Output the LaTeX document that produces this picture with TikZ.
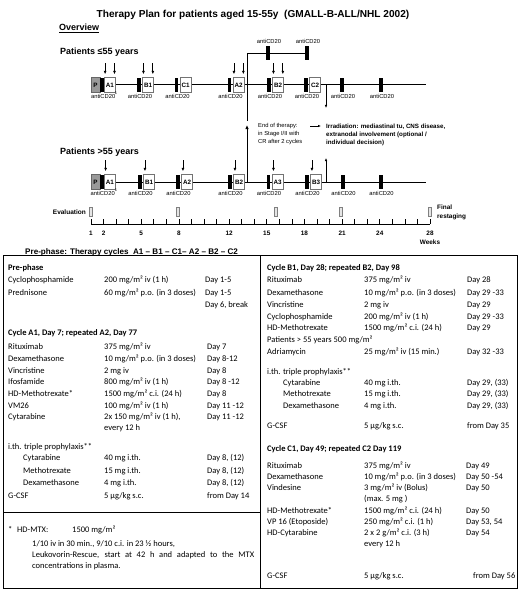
\documentclass[tikz,border=0pt]{standalone}
\usepackage{fontspec}
\setmainfont{Liberation Sans}
\newfontfamily\calibri{Carlito}
\usetikzlibrary{positioning}
\usetikzlibrary{arrows.meta}

\begin{document}
\begin{tikzpicture}[x=1pt,y=-1pt,
		bar/.style={fill=black,minimum width=3.5pt,minimum height=14pt,inner sep=0pt},
		cyc/.style={draw=black!55,fill=white,minimum width=11pt,minimum height=15pt,inner sep=0pt,font=\bfseries\fontsize{6.3}{7}\selectfont},
		pbox/.style={draw=black!60,fill=black!40,minimum width=9pt,minimum height=15pt,inner sep=0pt,font=\bfseries\fontsize{6.3}{7}\selectfont},
		cd/.style={font=\fontsize{5.8}{6}\selectfont,inner sep=0pt},
		dose/.style={-{Latex[length=3.5pt,width=3pt]},line width=0.9pt},
		thin arrow/.style={-{Latex[length=3pt,width=2.5pt]},line width=0.6pt},
		axis/.style={line width=1pt},
		evalbox/.style={draw=black!50,fill=black!10,minimum width=3pt,minimum height=9pt,inner sep=0pt},
		wk/.style={font=\bfseries\fontsize{6.4}{7}\selectfont,inner sep=0pt},
		tab/.style={anchor=base west,inner sep=0pt,font=\calibri\fontsize{8.5}{9}\selectfont},
		tabhead/.style={tab,font=\calibri\bfseries\fontsize{8.5}{9}\selectfont}]
	\useasboundingbox (0,0) rectangle (520,591);
	
	\node[font=\bfseries\fontsize{10.1}{12}\selectfont] (title) at (253,15) {Therapy Plan for patients aged 15-55y\ \ (GMALL-B-ALL/NHL 2002)};
	\node[anchor=west,inner sep=0pt,font=\bfseries\fontsize{9}{10}\selectfont] (overview) at (59,28) {\underline{Overview}};
	\node[anchor=west,inner sep=0pt,font=\bfseries\fontsize{9}{10}\selectfont] (young) at (60,52) {Patients ≤55 years};
	\node[anchor=west,inner sep=0pt,font=\bfseries\fontsize{9}{10}\selectfont] (old) at (60,152) {Patients >55 years};
	
	% patients <= 55
	\draw[axis] (114,85) -- (426,85);
	\node[pbox] (tp) at (95.5,85) {P};
	\node[bar,right=0pt of tp] (ta1-bar) {};
	\node[cyc,right=0pt of ta1-bar] (ta1) {A1};
	\foreach \bx/\lab/\nm in {139/B1/tb1, 176.5/C1/tc1, 229.5/A2/ta2, 269/B2/tb2, 306/C2/tc2}{
		\node[bar] (\nm-bar) at (\bx,85) {};
		\node[cyc,right=1.5pt of \nm-bar] (\nm) {\lab};
	}
	\node[bar] (tx1-bar) at (342,85) {};
	\node[bar] (tx2-bar) at (381,85) {};
	\foreach \nm in {ta1,tb1,tc1,ta2,tb2,tc2,tx1,tx2}
		\node[cd,anchor=north] (\nm-cd) at ([xshift=1pt,yshift=-2pt]\nm-bar.south) {antiCD20};
	\node[font=\fontsize{4}{4}\selectfont,inner sep=0pt] (ta1-note) at (116,93) {1};
	\foreach \nm in {ta1,tb1,ta2,tb2}{
		\draw[dose] ([xshift=1pt,yshift=14pt]\nm.north west) -- ([xshift=1pt,yshift=3pt]\nm.north west);
		\draw[dose] ([xshift=-1pt,yshift=14pt]\nm.north east) -- ([xshift=-1pt,yshift=3pt]\nm.north east);
	}
	\draw[thin arrow] (326,85) -- (326,108);
	
	% consolidation branch
	\node[bar] (bb1) at (268,53) {};
	\node[bar] (bb2) at (307,53) {};
	\draw[line width=0.9pt] (247,121) |- (bb2.center);
	\node[cd,anchor=south] (bb1-cd) at ([xshift=1pt,yshift=2pt]bb1.north) {antiCD20};
	\node[cd,anchor=south] (bb2-cd) at ([xshift=1pt,yshift=2pt]bb2.north) {antiCD20};
	\draw[line width=0.9pt,-{Latex[length=4pt,width=3.5pt]}] (247,182) -- (247,125);
	
	\node[anchor=north west,inner sep=0pt,align=left,font=\fontsize{5.8}{7.8}\selectfont] (eot) at (258,123.5) {End of therapy:\\in Stage I/II with\\CR after 2 cycles};
	\node[anchor=north west,inner sep=0pt,align=left,font=\bfseries\fontsize{6.2}{8}\selectfont] (irr) at (326,123.5) {Irradiation: mediastinal tu, CNS disease,\\extranodal involvement (optional /\\individual decision)};
	\draw[thin arrow] ([xshift=-16pt,yshift=-2.5pt]irr.north west) -- ([xshift=-5pt,yshift=-2.5pt]irr.north west);
	
	% patients > 55
	\draw[axis] (114,182) -- (426,182);
	\node[pbox] (bp) at (95.5,182) {P};
	\node[bar,right=0pt of bp] (ba1-bar) {};
	\node[cyc,right=0pt of ba1-bar] (ba1) {A1};
	\foreach \bx/\lab/\nm in {140/B1/bb1x, 178/A2/ba2, 230/B2/bb2x, 268.5/A3/ba3, 307/B3/bb3}{
		\node[bar] (\nm-bar) at (\bx,182) {};
		\node[cyc,right=1.5pt of \nm-bar] (\nm) {\lab};
	}
	\node[bar] (bx1-bar) at (343,182) {};
	\node[bar] (bx2-bar) at (381,182) {};
	\foreach \nm in {ba1,bb1x,ba2,bb2x,ba3,bb3,bx1,bx2}
		\node[cd,anchor=north] (\nm-cd) at ([xshift=0.5pt,yshift=-2pt]\nm-bar.south) {antiCD20};
	\node[font=\fontsize{4}{4}\selectfont,inner sep=0pt] (ba1-note) at (116,190) {1};
	\foreach \nm in {ba1,bb1x,ba2,bb2x,ba3,bb3}
		\draw[dose] ([xshift=1.5pt,yshift=14pt]\nm.north west) -- ([xshift=1.5pt,yshift=3pt]\nm.north west);
	\draw[thin arrow] (326,182) -- (326,158);
	
	% evaluation and weeks
	\node[anchor=east,inner sep=0pt,font=\bfseries\fontsize{6.5}{7}\selectfont] (eval) at (86,212) {Evaluation};
	\foreach \ex [count=\i] in {91,178,276,341,430}
		\node[evalbox] (ev\i) at (\ex,211.5) {};
	\node[anchor=west,inner sep=0pt,align=left,font=\bfseries\fontsize{6.4}{9}\selectfont] (final) at (437,212.5) {Final\\restaging};
	\draw[axis] (91,224) -- (430,224);
	\foreach \k in {0,...,27}
		\draw[line width=0.6pt] ({91+12.556*\k},219) -- ({91+12.556*\k},224);
	\foreach \w in {1,2,5,8,12,15,18,21,24,28}
		\node[wk] (w\w) at ({91+12.556*(\w-1)},233) {\w};
	\node[wk] (weeks) at (430,242) {Weeks};
	
	\node[anchor=base west,inner sep=0pt,font=\bfseries\fontsize{8.1}{9}\selectfont] (cycles) at (25,254) {Pre-phase: Therapy cycles\ \ A1 -- B1 -- C1-- A2 -- B2 -- C2};
	
	% table
	\draw[line width=0.8pt] (3,255) rectangle (517,588);
	\draw[line width=0.8pt] (260,255) -- (260,588);
	\draw[line width=0.8pt] (3,512) -- (260,512);
	
	\node[tabhead] (pre) at (8,270) {Pre-phase};
	\foreach \y/\a/\b/\c [count=\i] in {282/{Cyclophosphamide}/{200 mg/m² iv (1 h)}/{Day 1-5},
		295/{Prednisone}/{60 mg/m² p.o. (in 3 doses)}/{Day 1-5}, 307/{}/{}/{Day 6, break}}{
		\node[tab] (pn\i) at (8,\y) {\a};
		\node[tab] (pd\i) at (104,\y) {\b};
		\node[tab] (pt\i) at (205,\y) {\c};
	}
	\node[tabhead] (cyca) at (8,335) {Cycle A1, Day 7; repeated A2, Day 77};
	\foreach \y/\a/\b/\c [count=\i] in {349/{Rituximab}/{375 mg/m² iv}/{Day 7},
		361/{Dexamethasone}/{10 mg/m² p.o. (in 3 doses)}/{Day 8-12},
		373/{Vincristine}/{2 mg iv}/{Day 8},
		384/{Ifosfamide}/{800 mg/m² iv (1 h)}/{Day 8 -12},
		396/{HD-Methotrexate*}/{1500 mg/m² c.i. (24 h)}/{Day 8},
		408/{VM26}/{100 mg/m² iv (1 h)}/{Day 11 -12},
		419/{Cytarabine}/{2x 150 mg/m² iv (1 h),}/{Day 11 -12},
		430/{}/{every 12 h}/{},
		498/{G-CSF}/{5 µg/kg s.c.}/{from Day 14}}{
		\node[tab] (an\i) at (8,\y) {\a};
		\node[tab] (ad\i) at (104,\y) {\b};
		\node[tab] (at\i) at (207,\y) {\c};
	}
	\node[tab] (ithA) at (8,449) {i.th. triple prophylaxis**};
	\foreach \y/\a/\b/\c [count=\i] in {460/{Cytarabine}/{40 mg i.th.}/{Day 8, (12)},
		473/{Methotrexate}/{15 mg i.th.}/{Day 8, (12)},
		485/{Dexamethasone}/{4 mg i.th.}/{Day 8, (12)}}{
		\node[tab] (in\i) at (23,\y) {\a};
		\node[tab] (id\i) at (104,\y) {\b};
		\node[tab] (it\i) at (207,\y) {\c};
	}
	
	% footnote
	\node[tab] (fn1) at (8,532) {*};
	\node[tab] (fn2) at (17,532) {HD-MTX:};
	\node[tab] (fn3) at (72,532) {1500 mg/m²};
	\node[tab] (fn4) at (32,546) {1/10 iv in 30 min., 9/10 c.i. in 23 ½ hours,};
	\node[tab] (fn5) at (32,557) {\makebox[222pt][s]{Leukovorin-Rescue, start at 42 h and adapted to the MTX}};
	\node[tab] (fn6) at (32,568) {concentrations in plasma.};
	
	\node[tabhead] (cycb) at (267,270) {Cycle B1, Day 28; repeated B2, Day 98};
	\foreach \y/\a/\b/\c [count=\i] in {282/{Rituximab}/{375 mg/m² iv}/{Day 28},
		295/{Dexamethasone}/{10 mg/m² p.o. (in 3 doses)}/{Day 29 -33},
		307/{Vincristine}/{2 mg iv}/{Day 29},
		319/{Cyclophosphamide}/{200 mg/m² iv (1 h)}/{Day 29 -33},
		330/{HD-Methotrexate}/{1500 mg/m² c.i. (24 h)}/{Day 29},
		354/{Adriamycin}/{25 mg/m² iv (15 min.)}/{Day 32 -33},
		428/{G-CSF}/{5 µg/kg s.c.}/{from Day 35}}{
		\node[tab] (bn\i) at (267,\y) {\a};
		\node[tab] (bd\i) at (364,\y) {\b};
		\node[tab] (bt\i) at (467,\y) {\c};
	}
	\node[tab] (bold) at (267,342) {Patients > 55 years 500 mg/m²};
	\node[tab] (ithB) at (267,374) {i.th. triple prophylaxis**};
	\foreach \y/\a/\b/\c [count=\i] in {385/{Cytarabine}/{40 mg i.th.}/{Day 29, (33)},
		396/{Methotrexate}/{15 mg i.th.}/{Day 29, (33)},
		408/{Dexamethasone}/{4 mg i.th.}/{Day 29, (33)}}{
		\node[tab] (jn\i) at (283,\y) {\a};
		\node[tab] (jd\i) at (364,\y) {\b};
		\node[tab] (jt\i) at (467,\y) {\c};
	}
	
	\node[tabhead] (cycc) at (267,451) {Cycle C1, Day 49; repeated C2 Day 119};
	\foreach \y/\a/\b/\c [count=\i] in {468/{Rituximab}/{375 mg/m² iv}/{Day 49},
		479/{Dexamethasone}/{10 mg/m² p.o. (in 3 doses)}/{Day 50 -54},
		490/{Vindesine}/{3 mg/m² iv (Bolus)}/{Day 50},
		501/{}/{(max. 5 mg )}/{},
		513/{HD-Methotrexate*}/{1500 mg/m² c.i. (24 h)}/{Day 50},
		524/{VP 16 (Etoposide)}/{250 mg/m² c.i. (1 h)}/{Day 53, 54},
		535/{HD-Cytarabine}/{2 x 2 g/m² c.i. (3 h)}/{Day 54},
		546/{}/{every 12 h}/{}}{
		\node[tab] (cn\i) at (267,\y) {\a};
		\node[tab] (cd\i) at (364,\y) {\b};
		\node[tab] (ct\i) at (466,\y) {\c};
	}
	\node[tab] (cn9) at (267,578) {G-CSF};
	\node[tab] (cd9) at (364,578) {5 µg/kg s.c.};
	\node[tab] (ct9) at (473,578) {from Day 56};
\end{tikzpicture}
\end{document}
